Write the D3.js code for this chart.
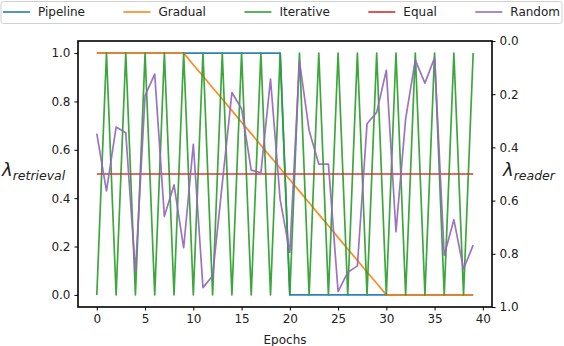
<!DOCTYPE html>
<html>
<head>
<meta charset="utf-8">
<script src="https://cdn.jsdelivr.net/npm/d3@7"></script>
<style>
  body { margin: 0; background: #fff; }
  svg { font-family: "DejaVu Sans", sans-serif; }
</style>
</head>
<body>
<svg id="chart" width="564" height="346"></svg>
<script>
const epochs = d3.range(40);

const seriesNames = ["Pipeline", "Gradual", "Iterative", "Equal", "Random"];
const seriesColors = ["#1f77b4", "#ff7f0e", "#2ca02c", "#d62728", "#9467bd"];

const pipeline = [1,1,1,1,1,1,1,1,1,1, 1,1,1,1,1,1,1,1,1,1,
                  0,0,0,0,0,0,0,0,0,0, 0,0,0,0,0,0,0,0,0,0];
const gradual = [1,1,1,1,1,1,1,1,1,1,
                 0.952,0.905,0.857,0.810,0.762,0.714,0.667,0.619,0.571,0.524,
                 0.476,0.429,0.381,0.333,0.286,0.238,0.190,0.143,0.095,0.048,
                 0,0,0,0,0,0,0,0,0,0];
const iterative = [0,1,0,1,0,1,0,1,0,1, 0,1,0,1,0,1,0,1,0,1,
                   0,1,0,1,0,1,0,1,0,1, 0,1,0,1,0,1,0,1,0,1];
const equal = [0.5,0.5,0.5,0.5,0.5,0.5,0.5,0.5,0.5,0.5,
               0.5,0.5,0.5,0.5,0.5,0.5,0.5,0.5,0.5,0.5,
               0.5,0.5,0.5,0.5,0.5,0.5,0.5,0.5,0.5,0.5,
               0.5,0.5,0.5,0.5,0.5,0.5,0.5,0.5,0.5,0.5];
const random = [0.667,0.43,0.694,0.671,0.093,0.824,0.913,0.325,0.455,0.195,
                0.623,0.030,0.079,0.46,0.837,0.770,0.516,0.505,0.892,0.393,
                0.176,0.967,0.680,0.541,0.541,0.014,0.093,0.120,0.708,0.755,
                0.929,0.261,0.728,0.971,0.876,0.981,0.164,0.311,0.107,0.206];

const allSeries = [pipeline, gradual, iterative, equal, random];

const xTicks = [0, 5, 10, 15, 20, 25, 30, 35, 40];
const yTicks = [0, 0.2, 0.4, 0.6, 0.8, 1.0];

const svg = d3.select("#chart");
const W = 564, H = 346;
const m = {left: 78, right: 72, top: 41, bottom: 39};

const x = d3.scaleLinear().domain([-1.95, 40.95]).range([m.left, W - m.right]);
const yL = d3.scaleLinear().domain([-0.05, 1.05]).range([H - m.bottom, m.top]);
const yR = d3.scaleLinear().domain([0, 1]).range([m.top, H - m.bottom]);

// lines
const line = d3.line().x((d, i) => x(epochs[i])).y(d => yL(d));
svg.append("g").selectAll("path")
  .data(allSeries)
  .join("path")
  .attr("d", d => line(d))
  .attr("fill", "none")
  .attr("stroke", (d, i) => seriesColors[i])
  .attr("stroke-width", 1.7)
  .attr("stroke-opacity", 0.92)
  .attr("stroke-linejoin", "round");

// axes
const fmt = d3.format(".1f");
const bottom = svg.append("g")
  .attr("transform", `translate(0,${H - m.bottom})`)
  .call(d3.axisBottom(x).tickValues(xTicks).tickFormat(d3.format("d")).tickSize(3.5).tickPadding(4));
const left = svg.append("g")
  .attr("transform", `translate(${m.left},0)`)
  .call(d3.axisLeft(yL).tickValues(yTicks).tickFormat(fmt).tickSize(3.5).tickPadding(4));
const right = svg.append("g")
  .attr("transform", `translate(${W - m.right},0)`)
  .call(d3.axisRight(yR).tickValues(yTicks).tickFormat(fmt).tickSize(3.5).tickPadding(4));

[bottom, left, right].forEach(g => {
  g.select(".domain").remove();
  g.selectAll("line").attr("stroke", "#000").attr("stroke-width", 1);
  g.selectAll("text").attr("fill", "#222").style("font-size", "12px").style("font-family", "DejaVu Sans");
});

// frame
svg.append("rect")
  .attr("x", m.left).attr("y", m.top)
  .attr("width", W - m.right - m.left).attr("height", H - m.bottom - m.top)
  .attr("fill", "none").attr("stroke", "#000").attr("stroke-width", 1.6);

// axis titles
svg.append("text")
  .attr("x", (m.left + W - m.right) / 2).attr("y", 344)
  .attr("text-anchor", "middle")
  .style("font-size", "12px").attr("fill", "#222")
  .text("Epochs");

function lambdaLabel(xPos, yPos, sub) {
  const t = svg.append("text").attr("x", xPos).attr("y", yPos).attr("fill", "#222");
  t.append("tspan").style("font-size", "18px").style("font-style", "italic").text("λ");
  t.append("tspan").attr("dy", 4).style("font-size", "12.5px").style("font-style", "italic").text(sub);
}
lambdaLabel(2, 176, "retrieval");
lambdaLabel(503, 176, "reader");

// legend
const leg = svg.append("g");
leg.append("rect")
  .attr("x", 1).attr("y", 1.5).attr("width", 561).attr("height", 22)
  .attr("rx", 2.5)
  .attr("fill", "#fff").attr("fill-opacity", 0.8)
  .attr("stroke", "#d0d0d0").attr("stroke-width", 1);

const handleLen = 27, handleGap = 8, legStart = 3, legEnd = 560, legY = 12;
const items = leg.selectAll("g.item")
  .data(seriesNames)
  .join("g").attr("class", "item");
items.append("line")
  .attr("x1", 0).attr("x2", handleLen)
  .attr("y1", legY).attr("y2", legY)
  .attr("stroke", (d, i) => seriesColors[i])
  .attr("stroke-width", 1.7).attr("stroke-opacity", 0.92);
items.append("text")
  .attr("x", handleLen + handleGap).attr("y", legY)
  .attr("dy", "0.35em")
  .style("font-size", "12px").attr("fill", "#222")
  .text(d => d);

const widths = [];
items.each(function() { widths.push(handleLen + handleGap + d3.select(this).select("text").node().getComputedTextLength()); });
const gap = (legEnd - legStart - d3.sum(widths)) / (widths.length - 1);
let cx = legStart;
items.attr("transform", (d, i) => {
  const tx = cx;
  cx += widths[i] + gap;
  return `translate(${tx},0)`;
});
</script>
</body>
</html>
